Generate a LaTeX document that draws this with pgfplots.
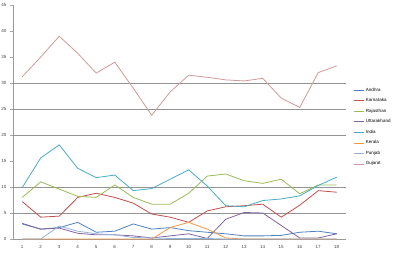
\documentclass[border=0pt]{standalone}
\usepackage{fontspec}
\setmainfont{Liberation Sans}
\usepackage{pgfplots}
\pgfplotsset{compat=1.18}
\definecolor{s1}{HTML}{4F81BD}
\definecolor{s2}{HTML}{C0504D}
\definecolor{s3}{HTML}{9BBB59}
\definecolor{s4}{HTML}{8064A2}
\definecolor{s5}{HTML}{4BACC6}
\definecolor{s6}{HTML}{F79646}
\definecolor{s7}{HTML}{95B3D7}
\definecolor{s8}{HTML}{D09A9A}
\begin{document}
\begin{tikzpicture}
\useasboundingbox (-13pt,-30pt) rectangle (387pt,239pt);
\begin{axis}[
  at={(0,0)}, anchor=south west,
  scale only axis, width=333pt, height=234pt,
  xmin=0.5, xmax=18.5, ymin=0, ymax=45,
  axis x line*=bottom, axis y line*=left,
  axis line style={gray!80, line width=0.7pt},
  xtick={1,...,18}, major x tick style={draw=none},
  extra x ticks={0.5,1.5,...,18.5}, extra x tick labels={},
  extra x tick style={major tick length=3pt, tick style={gray!70}},
  ytick={0,5,...,45}, ytick style={gray!70}, major tick length=3pt,
  tick align=outside,
  ticklabel style={font=\fontsize{4.5}{5}\selectfont, text=black!75},
  /pgf/number format/assume math mode=true,
  extra y ticks={5,10,20,25,30}, extra y tick labels={},
  extra y tick style={grid=major, major grid style={gray!85, line width=0.6pt}},
  legend style={at={(1.018,0.66)}, anchor=north west, draw=none, fill=none,
    font=\fontsize{4.5}{5}\selectfont, row sep=1.8pt, inner sep=1pt},
  legend cell align=left,
  legend image code/.code={\draw[#1] (0pt,0pt) -- (10pt,0pt);},
  every axis plot/.append style={line width=0.8pt, mark=none},
]
\addplot[s1] coordinates {(1,2.9)(2,1.9)(3,2.2)(4,3.2)(5,1.3)(6,1.5)(7,2.9)(8,1.9)(9,2.2)(10,1.6)(11,1.3)(12,1.0)(13,0.6)(14,0.6)(15,0.7)(16,1.3)(17,1.5)(18,1.0)};
\addlegendentry{Andhra}
\addplot[s2] coordinates {(1,7.2)(2,4.2)(3,4.4)(4,8.0)(5,8.8)(6,8.0)(7,6.9)(8,4.8)(9,4.2)(10,3.2)(11,5.4)(12,6.2)(13,6.4)(14,6.7)(15,4.2)(16,6.5)(17,9.3)(18,9.0)};
\addlegendentry{Karnataka}
\addplot[s3] coordinates {(1,8.0)(2,11.0)(3,9.6)(4,8.2)(5,8.0)(6,10.4)(7,8.0)(8,6.7)(9,6.7)(10,8.8)(11,12.1)(12,12.5)(13,11.2)(14,10.7)(15,11.5)(16,8.7)(17,10.4)(18,10.4)};
\addlegendentry{Rajasthan}
\addplot[s4] coordinates {(1,3.0)(2,1.9)(3,2.1)(4,1.1)(5,0.8)(6,0.8)(7,0.6)(8,0.2)(9,0.6)(10,1.0)(11,0.1)(12,3.8)(13,5.1)(14,5.0)(15,2.6)(16,0.2)(17,0.2)(18,1.0)};
\addlegendentry{Uttarakhand}
\addplot[s5] coordinates {(1,9.9)(2,15.6)(3,18.1)(4,13.6)(5,11.8)(6,12.3)(7,9.3)(8,9.7)(9,11.5)(10,13.3)(11,10.2)(12,6.4)(13,6.2)(14,7.4)(15,7.7)(16,8.3)(17,10.3)(18,11.9)};
\addlegendentry{India}
\addplot[s6] coordinates {(1,0)(2,0)(3,0)(4,0)(5,0)(6,0)(7,0)(8,0)(9,2.2)(10,3.2)(11,1.9)(12,0.2)(13,0)(14,0)(15,0)(16,0)(17,0)(18,0)};
\addlegendentry{Kerala}
\addplot[s7] coordinates {(1,0)(2,0)(3,2.5)(4,1.5)(5,1.0)(6,0.8)(7,0.3)(8,0.2)(9,0.1)(10,0.1)(11,0.1)(12,0)(13,0)(14,0)(15,0)(16,0)(17,0)(18,0)};
\addlegendentry{Punjab}
\addplot[s8] coordinates {(1,31.2)(2,35.0)(3,39.0)(4,35.7)(5,31.9)(6,34.0)(7,29.0)(8,23.8)(9,28.3)(10,31.5)(11,31.1)(12,30.6)(13,30.4)(14,30.9)(15,27.1)(16,25.3)(17,32.0)(18,33.3)};
\addlegendentry{Gujarat}
\end{axis}
\end{tikzpicture}
\end{document}
